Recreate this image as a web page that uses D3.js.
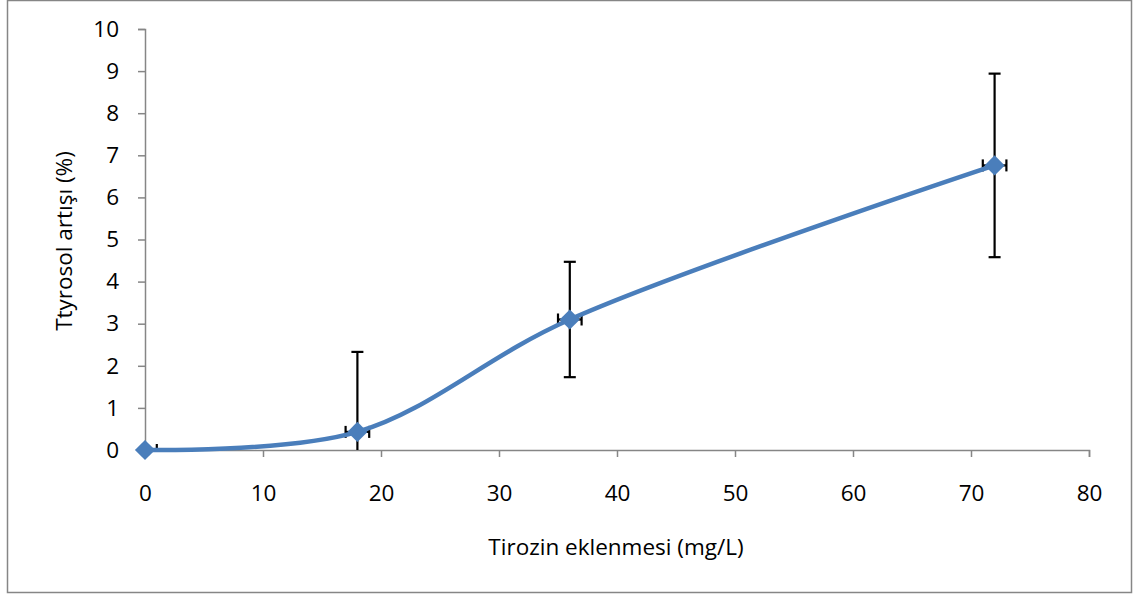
<!DOCTYPE html>
<html>
<head>
<meta charset="utf-8">
<title>Tyrosol</title>
<script src="https://d3js.org/d3.v7.min.js"></script>
<style>
  body { margin: 0; background: white; }
  svg text { font-family: "Open Sans", sans-serif; fill: #000; }
</style>
</head>
<body>
<svg id="chart" width="1143" height="599"></svg>
<script>
// data
var xValues = [0, 18, 36, 72];
var yValues = [0, 0.43, 3.1, 6.76];
var yErr = [0, 1.9, 1.37, 2.18];
var xErr = [1, 1, 1, 1];
var xTicks = [0, 10, 20, 30, 40, 50, 60, 70, 80];
var yTicks = [0, 1, 2, 3, 4, 5, 6, 7, 8, 9, 10];
var xTitle = "Tirozin eklenmesi (mg/L)";
var yTitle = "Ttyrosol artışı (%)";

var svg = d3.select("#chart");
var axisColor = "#868686";
var blue = "#4A7EBB";
var fontSize = "22.5px";

// outer frame
svg.append("rect")
    .attr("x", 7.5).attr("y", 0.5)
    .attr("width", 1124).attr("height", 592)
    .attr("fill", "white")
    .attr("stroke", axisColor).attr("stroke-width", 1.5);

var x = d3.scaleLinear().domain([0, 80]).range([145, 1089]);
var y = d3.scaleLinear().domain([0, 10]).range([450, 29]);

var xAxis = svg.append("g")
    .attr("transform", "translate(0,450)")
    .call(d3.axisBottom(x).tickValues(xTicks).tickSize(7).tickPadding(28));
var yAxis = svg.append("g")
    .attr("transform", "translate(145,0)")
    .call(d3.axisLeft(y).tickValues(yTicks).tickSize(7).tickPadding(19));

[xAxis, yAxis].forEach(function (g) {
    g.selectAll("path, line").attr("stroke", axisColor).attr("stroke-width", 1.5);
    g.selectAll("text").style("font-size", fontSize);
});

svg.append("text")
    .attr("x", 616).attr("y", 555)
    .attr("text-anchor", "middle")
    .style("font-size", fontSize)
    .text(xTitle);

svg.append("text")
    .attr("transform", "translate(72,241) rotate(-90)")
    .attr("text-anchor", "middle")
    .style("font-size", fontSize)
    .text(yTitle);

var points = xValues.map(function (v, i) {
    return {x: v, y: yValues[i], ey: yErr[i], ex: xErr[i]};
});

// clip error bars to the plot area
svg.append("clipPath").attr("id", "plotClip")
    .append("rect").attr("x", 145).attr("y", 0).attr("width", 960).attr("height", 450);

var bars = svg.append("g").attr("clip-path", "url(#plotClip)");

points.forEach(function (d) {
    if (d.ey > 0) {
        bars.append("line")
            .attr("x1", x(d.x)).attr("x2", x(d.x))
            .attr("y1", y(d.y + d.ey)).attr("y2", y(d.y - d.ey))
            .attr("stroke", "#000").attr("stroke-width", 2.2);
        [d.y + d.ey, d.y - d.ey].forEach(function (v) {
            bars.append("line")
                .attr("x1", x(d.x) - 6).attr("x2", x(d.x) + 6)
                .attr("y1", y(v)).attr("y2", y(v))
                .attr("stroke", "#000").attr("stroke-width", 2.2);
        });
    }
    bars.append("line")
        .attr("x1", x(d.x - d.ex)).attr("x2", x(d.x + d.ex))
        .attr("y1", y(d.y)).attr("y2", y(d.y))
        .attr("stroke", "#000").attr("stroke-width", 2.2);
    [d.x - d.ex, d.x + d.ex].forEach(function (v) {
        bars.append("line")
            .attr("x1", x(v)).attr("x2", x(v))
            .attr("y1", y(d.y) - 6).attr("y2", y(d.y) + 6)
            .attr("stroke", "#000").attr("stroke-width", 2.2);
    });
});

var line = d3.line()
    .x(function (d) { return x(d.x); })
    .y(function (d) { return y(d.y); })
    .curve(d3.curveCatmullRom.alpha(0.5));

svg.append("path")
    .datum(points)
    .attr("d", line)
    .attr("fill", "none")
    .attr("stroke", blue)
    .attr("stroke-width", 4.5)
    .attr("stroke-linecap", "round");

svg.selectAll(".marker")
    .data(points)
    .enter().append("path")
    .attr("class", "marker")
    .attr("d", d3.symbol().type(d3.symbolDiamond2).size(260))
    .attr("transform", function (d) { return "translate(" + x(d.x) + "," + y(d.y) + ")"; })
    .attr("fill", blue);
</script>
</body>
</html>
